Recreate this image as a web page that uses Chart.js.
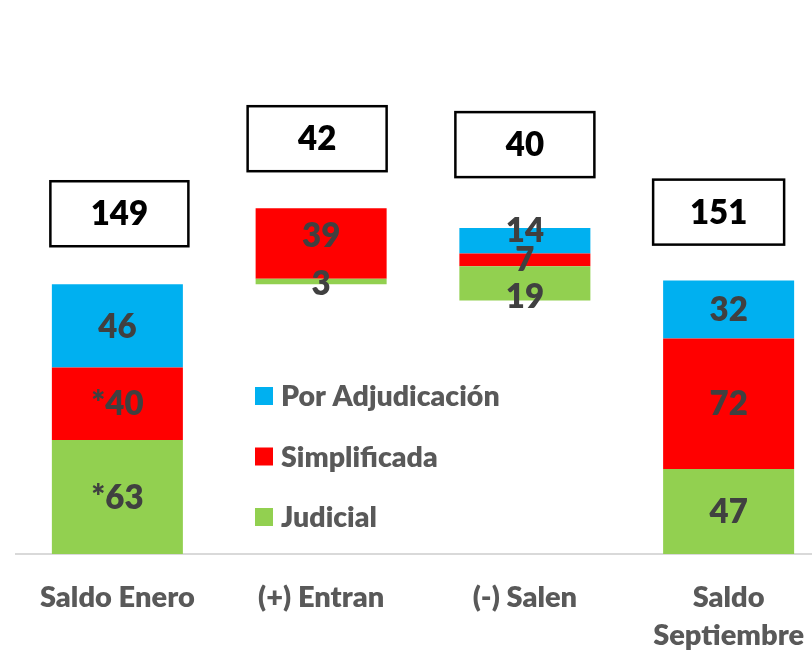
<!DOCTYPE html>
<html>
<head>
<meta charset="utf-8">
<script src="https://cdn.jsdelivr.net/npm/chart.js@4.4.1/dist/chart.umd.min.js"></script>
<style>
    html, body { margin: 0; padding: 0; background: #fff; overflow: hidden; }
    canvas { display: block; }
</style>
</head>
<body>
<canvas id="saldos" width="846" height="650"></canvas>
<script>
// categorias y valores por tipo de proceso
const categories = ['Saldo Enero', '(+) Entran', '(-) Salen', ['Saldo', 'Septiembre']];
const baseValues = [0, 149, 140, 0];
const judicial = [63, 3, 19, 47];
const simplificada = [40, 39, 7, 72];
const adjudicacion = [46, 0, 14, 32];

// textos de las etiquetas (los de enero llevan asterisco)
const judicialLabels = ['*63', '3', '19', '47'];
const simplificadaLabels = ['*40', '39', '7', '72'];
const adjudicacionLabels = ['46', '', '14', '32'];

const totals = judicial.map((v, i) => v + simplificada[i] + adjudicacion[i]);

const FONT = 'Lato, "Open Sans", sans-serif';

// pequeños desplazamientos verticales para que no se pisen las etiquetas
const labelShift = [
    [0, 2, 13, 0],
    [0, -8, 0, 0],
    [0, 0, -10, 0]
];
const boxGap = [38, 37, 51, 36];
const boxShiftX = [2, -4, 0, -10];
const boxWidth = [138, 139, 139, 131];

const segmentLabels = [judicialLabels, simplificadaLabels, adjudicacionLabels];

const labelsPlugin = {
    id: 'labelsPlugin',
    afterDatasetsDraw(chart) {
        const { ctx } = chart;
        ctx.save();
        ctx.textAlign = 'center';
        ctx.textBaseline = 'middle';

        // valores dentro de cada segmento
        ctx.font = '800 33px ' + FONT;
        ctx.fillStyle = '#404040';
        for (let d = 1; d <= 3; d++) {
            const meta = chart.getDatasetMeta(d);
            meta.data.forEach((bar, i) => {
                const txt = segmentLabels[d - 1][i];
                if (!txt) return;
                const cy = (bar.y + bar.base) / 2 + labelShift[d - 1][i];
                ctx.fillText(txt, bar.x, cy + 1);
            });
        }

        // recuadros con el total de cada columna
        const yScale = chart.scales.y;
        const meta = chart.getDatasetMeta(1);
        meta.data.forEach((bar, i) => {
            const top = yScale.getPixelForValue(baseValues[i] + totals[i]);
            const w = boxWidth[i], h = 65;
            const cx = bar.x + boxShiftX[i];
            const bottom = top - boxGap[i];
            ctx.fillStyle = '#fff';
            ctx.fillRect(cx - w / 2, bottom - h, w, h);
            ctx.lineWidth = 2.5;
            ctx.strokeStyle = '#000';
            ctx.strokeRect(cx - w / 2, bottom - h, w, h);
            ctx.fillStyle = '#000';
            ctx.fillText(String(totals[i]), cx, bottom - h / 2 + 1);
        });

        // leyenda dentro del area del grafico
        ctx.textAlign = 'left';
        ctx.font = '800 28.5px ' + FONT;
        const items = [3, 2, 1];
        items.forEach((d, k) => {
            const ds = chart.data.datasets[d];
            const y = 396 + k * 60.5;
            ctx.fillStyle = ds.backgroundColor;
            ctx.fillRect(255, y - 9, 18, 18);
            ctx.fillStyle = '#595959';
            ctx.fillText(ds.label, 281, y + 1);
        });
        ctx.restore();
    }
};

new Chart(document.getElementById('saldos'), {
    type: 'bar',
    data: {
        labels: categories,
        datasets: [
            { label: 'base', data: baseValues, backgroundColor: 'rgba(0,0,0,0)' },
            { label: 'Judicial', data: judicial, backgroundColor: '#92D050' },
            { label: 'Simplificada', data: simplificada, backgroundColor: '#FF0000' },
            { label: 'Por Adjudicación', data: adjudicacion, backgroundColor: '#00B0F0' }
        ]
    },
    options: {
        responsive: false,
        animation: false,
        layout: { padding: { left: 15.5, right: 15.5, top: 0, bottom: 0 } },
        datasets: {
            bar: { categoryPercentage: 1, barPercentage: 0.643, borderWidth: 0 }
        },
        plugins: {
            legend: { display: false },
            tooltip: { enabled: false }
        },
        scales: {
            x: {
                stacked: true,
                grid: { display: false },
                border: { display: true, color: '#D9D9D9', width: 2 },
                ticks: {
                    color: '#595959',
                    padding: 17,
                    maxRotation: 0,
                    autoSkip: false,
                    font: { family: FONT, size: 29, weight: '800', lineHeight: 1.3 }
                },
                afterFit(scale) { scale.height = 96; }
            },
            y: {
                stacked: true,
                display: false,
                min: 0,
                max: 306
            }
        }
    },
    plugins: [labelsPlugin]
});
</script>
</body>
</html>
